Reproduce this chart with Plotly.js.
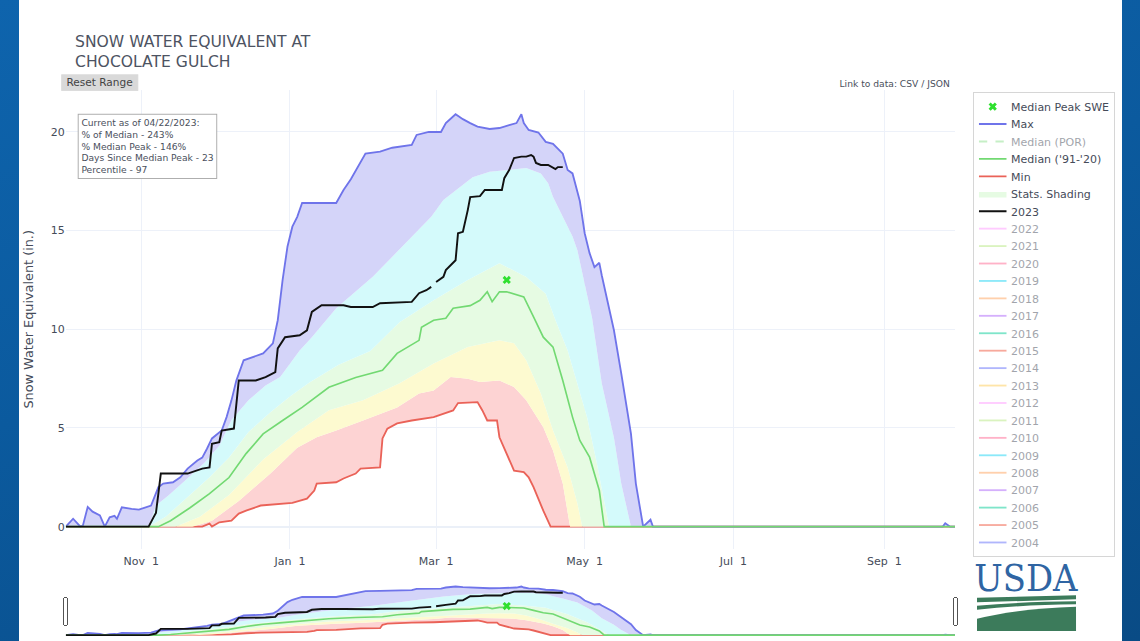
<!DOCTYPE html>
<html>
<head>
<meta charset="utf-8">
<script src="https://cdn.plot.ly/plotly-3.0.1.min.js"></script>
<style>
html,body{margin:0;padding:0;width:1140px;height:641px;overflow:hidden;
  background:linear-gradient(165deg,#0e64ad 0%,#0b5a9e 45%,#094b85 100%);}
#wrap{position:absolute;left:19px;top:0;width:1103px;height:641px;background:#fff;overflow:hidden;}
#plot{width:1202px;height:697px;transform:scale(0.91764);transform-origin:0 0;}
</style>
</head>
<body>
<div id="wrap"><div id="plot"></div></div>
<script>
// ---- data: day offsets from Oct 1 of the water year, SWE in inches ----
const minDays = [0,56,59,60,63,68,71,74,80,88,93,99,102,103,111,114,119,121,129,130,132,136,142,151,155,159,161,169,171,173,177,178,184,188,190,192,196,199,365];
const minSwe  = [0,0,0.15,0,0.22,0.3,0.66,0.81,1.07,1.17,1.2,1.42,1.83,2.18,2.25,2.44,2.69,2.94,3.0,4.47,4.97,5.23,5.38,5.55,5.72,5.89,6.26,6.31,5.89,5.38,5.38,4.53,2.84,2.76,2.5,2.0,0.81,0,0];

const p10Days = [0,52,60,71,84,95,103,111,122,136,145,151,158,165,170,178,184,189,196,200,204,207,365];
const p10Swe  = [0,0,0.3,1.3,2.69,4.0,4.53,4.87,5.38,6.04,6.75,6.9,7.58,7.5,7.33,7.41,7.07,6.4,5.04,3.86,2.18,0,0];

const p30Days = [0,45,55,67,81,95,108,122,137,151,165,173,178,184,189,195,200,206,210,212,365];
const p30Swe  = [0,0,0.5,1.6,3.4,4.8,5.9,6.4,7.26,8.27,9.1,9.29,9.44,9.29,8.43,6.75,4.87,3.0,1.17,0,0];

const p70Days = [0,34,41,51,59,67,75,84,92,100,112,125,137,151,165,178,189,197,201,206,210,214,218,221,223,365];
const p70Swe  = [0,0,0.5,1.6,2.5,3.5,4.8,5.8,6.6,7.3,8.2,8.9,10.36,11.47,12.5,13.35,12.65,11.8,10.46,8.93,7.26,5.53,3.2,1.17,0,0];

const p90Days = [0,34,37,42,49,57,63,68,75,82,88,96,101,111,126,138,150,155,167,174,181,189,195,198,200,204,208,210,216,220,225,228,232,365];
const p90Swe  = [0,0,1.07,1.57,2.34,3.25,4.1,5.4,6.4,7.15,7.58,8.93,9.6,11.07,12.66,14.18,15.7,16.55,17.7,17.98,18.07,18.17,17.9,17.4,16.7,15.7,14.7,14.0,10.6,7.26,4.5,2.18,0,0];

const maxDays = [0,3,6,7,9,11,14,16,18,20,21,23,27,30,35,36,38,40,44,47,50,54,56,58,60,64,66,68,70,73,81,85,87,89,91,93,95,97,111,114,117,123,129,134,142,144,149,154,156,160,163,166,169,174,178,182,185,187,188,190,194,197,200,204,206,208,211,213,215,217,219,220,225,228,232,234,237,240,241,360,361,363,365];
const maxSwe  = [0,0.4,0,0.05,1.0,0.76,0.57,0,0.47,0.55,0.4,0.98,0.9,0.86,1.07,1.4,2.0,2.18,2.25,2.5,2.94,3.35,3.5,3.96,4.47,4.87,5.55,6.4,7.4,8.43,8.78,9.29,10.46,12.5,14.2,15.2,15.7,16.4,16.4,17.06,17.6,18.9,19.0,19.2,19.34,19.85,20.0,20.0,20.45,20.9,20.65,20.45,20.27,20.15,20.2,20.35,20.45,20.9,20.45,20.1,19.97,19.5,19.4,18.9,18.07,17.9,16.5,14.87,13.86,13.15,13.37,12.74,9.95,7.77,4.7,2.18,0,0.35,0,0,0.17,0,0];

const medDays = [0,38,43,51,59,67,74,81,89,97,108,119,130,136,145,146,151,156,159,166,170,173,175,178,181,188,192,196,200,204,208,211,215,219,221,365];
const medSwe  = [0,0,0.3,0.96,1.67,2.49,3.7,4.7,5.38,6.04,7.06,7.56,7.92,8.78,9.44,10.1,10.46,10.56,11.07,11.2,11.47,11.9,11.4,11.9,11.9,11.64,10.63,9.6,9.1,7.41,5.55,4.37,3.52,1.83,0,0];

// 2023 (day 151 = Feb 29, no value)
const wy2023Days = [0,34,36,37,38,39,50,56,59,60,63,64,69,71,78,82,86,87,90,96,99,101,105,114,117,126,129,142,145,148,150,151,152,155,156,160,161,163,165,166,170,172,179,180,182,184,187,189,191,192,193,195,198,200,201,202,204];
const wy2023Swe  = [0,0,0.47,0.7,1.67,2.69,2.69,2.94,3.0,4.2,4.28,4.87,4.97,7.41,7.41,7.58,7.83,9.03,9.6,9.7,9.95,10.88,11.22,11.22,11.13,11.13,11.32,11.39,11.83,11.98,12.15,null,12.4,12.66,13.0,13.5,14.87,14.94,16.04,16.7,16.75,17.06,17.06,17.66,18.07,18.68,18.75,18.75,18.83,18.75,18.43,18.33,18.33,18.17,18.12,18.22,18.22];

const medianPeakDay = [181];
const medianPeakSwe = [12.5];

const hiddenYears = ['2022','2021','2020','2019','2018','2017','2016','2015','2014','2013','2012','2011','2010','2009','2008','2007','2006','2005','2004'];
const hiddenColors = ['#FF97FF','#B6E880','#FF6692','#19d3f3','#FFA15A','#ab63fa','#00cc96','#EF553B','#636efa','#FECB52','#FF97FF','#B6E880','#FF6692','#19d3f3','#FFA15A','#ab63fa','#00cc96','#EF553B','#636efa'];

const tickDays = [31, 92, 152, 213, 274, 336];
const tickLabels = ['Nov\u00a0\u00a01','Jan\u00a0\u00a01','Mar\u00a0\u00a01','May\u00a0\u00a01','Jul\u00a0\u00a01','Sep\u00a0\u00a01'];
const infoLines = ['Current as of 04/22/2023:','% of Median - 243%','% Median Peak - 146%','Days Since Median Peak - 23','Percentile - 97'];

// ---- helpers ----
const BASE = Date.UTC(2019, 9, 1); // leap-year water-year axis
const dayToDate = d => new Date(BASE + d * 864e5).toISOString().slice(0, 10);
const toDates = arr => arr.map(dayToDate);

const S = 0.91764, L = 51.2, R = 1020.0, T = 98.1, B = 597.2;
const px = X => (((X - 19) / S) - L) / (R - L);
const py = Y => (B - Y / S) / (B - T);
const P = (X, Y) => px(X).toFixed(5) + ',' + py(Y).toFixed(5);

const FONT = '"DejaVu Sans", Verdana, sans-serif';
const TXT = '#454b59';
const traces = [];

traces.push({x: toDates(minDays), y: minSwe, name: 'Min', mode: 'lines',
  line: {color: '#ea6258', width: 2}, legendrank: 5, hoverinfo: 'skip'});
traces.push({x: toDates(p10Days), y: p10Swe, name: '10%', mode: 'lines', fill: 'tonexty',
  fillcolor: '#fdd3d3', line: {width: 0}, showlegend: false, hoverinfo: 'skip'});
traces.push({x: toDates(p30Days), y: p30Swe, name: '30%', mode: 'lines', fill: 'tonexty',
  fillcolor: '#fdfad0', line: {width: 0}, showlegend: false, hoverinfo: 'skip'});
traces.push({x: toDates(p70Days), y: p70Swe, name: 'Stats. Shading', mode: 'lines', fill: 'tonexty',
  fillcolor: '#e6fbe3', line: {width: 0}, legendrank: 6, hoverinfo: 'skip'});
traces.push({x: toDates(p90Days), y: p90Swe, name: '90%', mode: 'lines', fill: 'tonexty',
  fillcolor: '#d4fafb', line: {width: 0}, showlegend: false, hoverinfo: 'skip'});
traces.push({x: toDates(maxDays), y: maxSwe, name: 'Max fill', mode: 'lines', fill: 'tonexty',
  fillcolor: '#d4d4f9', line: {width: 0}, showlegend: false, hoverinfo: 'skip'});
traces.push({x: toDates(maxDays), y: maxSwe, name: 'Max', mode: 'lines',
  line: {color: '#6f74ea', width: 2}, legendrank: 2, hoverinfo: 'skip'});
traces.push({x: toDates(medDays), y: medSwe, name: "Median ('91-'20)", mode: 'lines',
  line: {color: '#72d972', width: 1.8}, legendrank: 4, hoverinfo: 'skip'});
traces.push({x: [dayToDate(0)], y: [null], name: 'Median (POR)', mode: 'lines', visible: 'legendonly',
  line: {color: '#8ee08e', width: 2, dash: 'dash'}, legendrank: 3, showlegend: true});
traces.push({x: toDates(medianPeakDay), y: medianPeakSwe, name: 'Median Peak SWE', mode: 'markers',
  marker: {symbol: 'x', color: '#2fe02f', size: 8}, legendrank: 1, hoverinfo: 'skip'});
traces.push({x: toDates(wy2023Days), y: wy2023Swe, name: '2023', mode: 'lines', connectgaps: false,
  line: {color: '#111111', width: 2.1}, legendrank: 7, hoverinfo: 'skip'});
hiddenYears.forEach((yr, i) => traces.push({x: [dayToDate(0)], y: [null], name: yr, mode: 'lines',
  visible: 'legendonly', showlegend: true, line: {color: hiddenColors[i], width: 2}, legendrank: 8 + i}));

const logoGreen = '#3c7b5b';
const layout = {
  width: 1202, height: 697,
  margin: {l: 51, r: 182, t: 98, b: 0},
  paper_bgcolor: '#ffffff', plot_bgcolor: '#ffffff',
  font: {family: FONT, color: TXT, size: 12},
  title: {text: 'SNOW WATER EQUIVALENT AT<br>CHOCOLATE GULCH', xref: 'container', yref: 'container',
    x: 0.0508, xanchor: 'left', y: 0.9268, yanchor: 'top', font: {size: 17, color: '#4d5362'}},
  showlegend: true,
  legend: {x: px(973), xanchor: 'left', y: py(92), yanchor: 'top', bordercolor: '#d6d6d6', borderwidth: 1.5,
    bgcolor: '#ffffff', font: {size: 12, color: TXT}, traceorder: 'normal', maxheight: 650},
  xaxis: {type: 'date', range: [dayToDate(0), dayToDate(365)], autorange: false,
    tickvals: toDates(tickDays), ticktext: tickLabels, showgrid: true, gridcolor: '#ebf0f8', zeroline: false,
    showline: false, ticks: '', ticklabelstandoff: 5, tickfont: {size: 12, color: TXT},
    rangeslider: {visible: true, thickness: 0.0987, bgcolor: '#ffffff', borderwidth: 4, bordercolor: '#ffffff',
      range: [dayToDate(0), dayToDate(365)], yaxis: {rangemode: 'match'}}},
  yaxis: {range: [-1.12, 22.13], autorange: false, dtick: 5, showgrid: true, gridcolor: '#ebf0f8',
    zeroline: true, zerolinecolor: '#ebf0f8', zerolinewidth: 2, ticks: '', tickfont: {size: 12, color: TXT},
    title: {text: 'Snow Water Equivalent (in.)', font: {size: 14, color: TXT}, standoff: 15}},
  annotations: [
    {xref: 'paper', yref: 'paper', x: px(61), y: py(74), xanchor: 'left', yanchor: 'top',
      text: '\u00a0Reset Range\u00a0', showarrow: false, bgcolor: '#d9d9d9', bordercolor: '#d9d9d9',
      borderwidth: 1, borderpad: 1, font: {size: 11.5, color: '#444'}},
    {xref: 'paper', yref: 'paper', x: px(78), y: py(114), xanchor: 'left', yanchor: 'top', align: 'left',
      text: infoLines.join('<br>'), showarrow: false, bgcolor: '#ffffff', bordercolor: '#a8a8a8',
      borderwidth: 1, borderpad: 3, font: {size: 10, color: '#4a4f5c'}},
    {xref: 'paper', yref: 'paper', x: px(952), y: py(84), xanchor: 'right', yanchor: 'middle',
      text: 'Link to data: CSV / JSON', showarrow: false, font: {size: 10, color: '#4a4f5c'}},
    {xref: 'paper', yref: 'paper', x: px(1027), y: py(577.5), xanchor: 'center', yanchor: 'middle',
      text: 'USDA', showarrow: false,
      font: {family: '"DejaVu Serif Condensed", "Liberation Serif", serif', size: 41, color: '#2f65a3'}}
  ],
  shapes: [
    {type: 'path', xref: 'paper', yref: 'paper', fillcolor: logoGreen, line: {width: 0},
      path: 'M' + P(977,597) + ' L' + P(1076,594.5) + ' L' + P(1076,598.5) + ' L' + P(977,601.5) + ' Z'},
    {type: 'path', xref: 'paper', yref: 'paper', fillcolor: logoGreen, line: {width: 0},
      path: 'M' + P(977,605) + ' Q' + P(1020,601) + ' ' + P(1076,600.5) + ' L' + P(1076,603.5) + ' Q' + P(1020,604) + ' ' + P(977,609) + ' Z'},
    {type: 'path', xref: 'paper', yref: 'paper', fillcolor: logoGreen, line: {width: 0},
      path: 'M' + P(977,618) + ' Q' + P(1015,608) + ' ' + P(1076,606) + ' L' + P(1076,630) + ' L' + P(977,630) + ' Z'}
  ]
};

Plotly.newPlot('plot', traces, layout, {displayModeBar: false, responsive: false});
</script>
</body>
</html>
